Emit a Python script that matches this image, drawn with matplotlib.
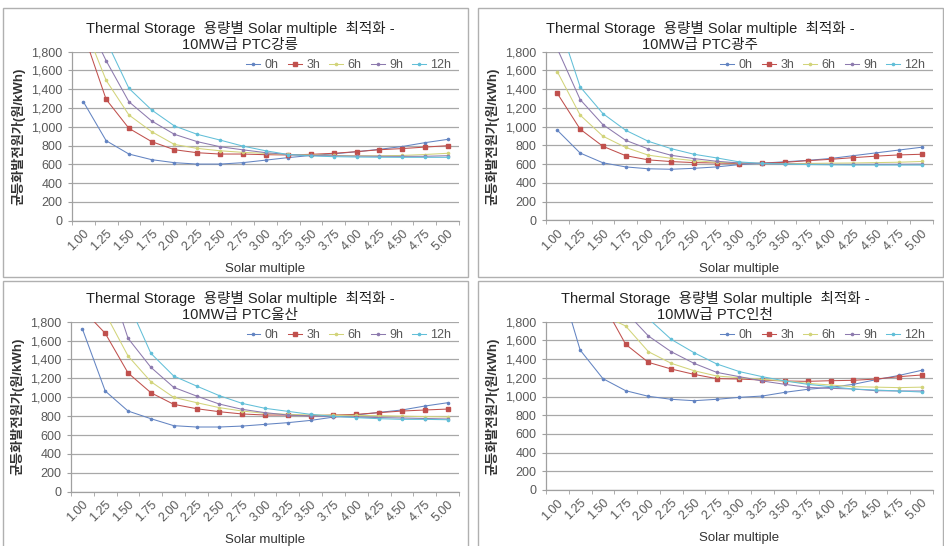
import numpy as np
import matplotlib
matplotlib.use("Agg")
import matplotlib.pyplot as plt
from matplotlib.patches import Rectangle

plt.rcParams['font.family'] = ['Liberation Sans', 'Noto Sans CJK KR', 'DejaVu Sans']

nan = np.nan
categories = ["1.00", "1.25", "1.50", "1.75", "2.00", "2.25", "2.50", "2.75", "3.00",
              "3.25", "3.50", "3.75", "4.00", "4.25", "4.50", "4.75", "5.00"]
series_names = ["0h", "3h", "6h", "9h", "12h"]
yticks = [0, 200, 400, 600, 800, 1000, 1200, 1400, 1600, 1800]

title_line1 = "Thermal Storage  용량별 Solar multiple  최적화 -"
sites = ["10MW급 PTC강릉", "10MW급 PTC광주", "10MW급 PTC울산", "10MW급 PTC인천"]
ylabel = "균등화발전원가(원/kWh)"
xlabel = "Solar multiple"

# 강릉
gangneung = {
    "0h":  [1267, 852, 710, 650, 618, 603, 603, 618, 645, 672, 695, 712, 735, 760, 790, 831, 866],
    "3h":  [2000, 1292, 984, 842, 756, 724, 710, 710, 703, 700, 707, 718, 735, 756, 768, 784, 799],
    "6h":  [2100, 1495, 1126, 948, 812, 770, 745, 728, 717, 706, 700, 695, 692, 692, 695, 705, 718],
    "9h":  [2200, 1704, 1267, 1062, 920, 842, 788, 755, 725, 705, 695, 690, 688, 686, 685, 686, 692],
    "12h": [nan, 1920, 1410, 1179, 1009, 920, 859, 795, 745, 705, 690, 682, 678, 676, 675, 675, 675],
}
# 광주
gwangju = {
    "0h":  [961, 718, 614, 570, 550, 545, 555, 570, 595, 610, 625, 640, 660, 690, 720, 750, 780],
    "3h":  [1354, 973, 790, 690, 645, 627, 616, 612, 605, 610, 619, 637, 651, 669, 685, 698, 705],
    "6h":  [1585, 1123, 898, 778, 695, 662, 637, 619, 612, 605, 605, 607, 610, 612, 616, 620, 628],
    "9h":  [1830, 1289, 1021, 854, 761, 694, 659, 630, 612, 605, 600, 598, 597, 597, 598, 598, 600],
    "12h": [2160, 1425, 1139, 961, 843, 765, 705, 666, 623, 608, 600, 595, 592, 590, 590, 590, 590],
}
# 울산
ulsan = {
    "0h":  [1723, 1066, 854, 773, 699, 685, 685, 695, 713, 731, 755, 790, 812, 840, 865, 907, 942],
    "3h":  [1930, 1677, 1257, 1048, 925, 879, 847, 823, 812, 812, 805, 812, 819, 837, 854, 865, 875],
    "6h":  [nan, 1890, 1437, 1165, 999, 943, 890, 854, 830, 819, 812, 810, 808, 805, 800, 795, 792],
    "9h":  [nan, 2357, 1624, 1317, 1105, 1013, 928, 872, 837, 812, 801, 795, 790, 785, 780, 775, 770],
    "12h": [nan, nan, 2005, 1465, 1225, 1119, 1017, 935, 883, 851, 819, 798, 784, 773, 766, 766, 762],
}
# 인천
incheon = {
    "0h":  [2316, 1497, 1191, 1062, 1002, 970, 955, 970, 991, 1005, 1045, 1077, 1098, 1130, 1180, 1225, 1280],
    "3h":  [nan, nan, 1998, 1558, 1365, 1294, 1237, 1191, 1187, 1176, 1166, 1162, 1169, 1173, 1187, 1212, 1230],
    "6h":  [nan, nan, 1869, 1754, 1479, 1355, 1276, 1219, 1201, 1184, 1166, 1141, 1123, 1105, 1100, 1095, 1100],
    "9h":  [nan, nan, nan, 1906, 1647, 1479, 1355, 1258, 1212, 1166, 1130, 1098, 1087, 1080, 1062, 1059, 1059],
    "12h": [nan, nan, nan, nan, 1833, 1611, 1469, 1348, 1266, 1212, 1166, 1130, 1105, 1080, 1069, 1059, 1048],
}
datasets = [gangneung, gwangju, ulsan, incheon]

colors = {"0h": "#6384c2", "3h": "#c0504d", "6h": "#d2d47a", "9h": "#8d7aae", "12h": "#62bfd8"}

W, H = 945, 546
fig = plt.figure(figsize=(W / 100, H / 100), dpi=100)

def fbox(x0, y0, x1, y1):
    return [x0 / W, 1 - y1 / H, (x1 - x0) / W, (y1 - y0) / H]

# panel frames
panels = [(3, 8, 468, 277), (478, 8, 943, 277), (3, 281, 468, 552), (478, 281, 943, 552)]
for (x0, y0, x1, y1) in panels:
    b = fbox(x0, y0, x1, y1)
    fig.patches.append(Rectangle((b[0], b[1]), b[2], b[3], transform=fig.transFigure,
                                 fill=False, edgecolor="#b0b0b0", linewidth=1.0))

axes_boxes = [(72, 51.7, 459, 220.7), (546, 51.7, 933, 220.3),
              (71, 321.7, 459, 491.7), (546, 321.7, 933, 490.0)]
title_x = [0.434, 0.398, 0.436, 0.437]
title_pad = [2, 2, 1, 1]

gray = "#595959"
x = np.arange(len(categories))
for k, (data, box) in enumerate(zip(datasets, axes_boxes)):
    ax = fig.add_axes(fbox(*box))
    for name in series_names:
        ax.plot(x, data[name], color=colors[name], lw=0.75, marker="s" if name == "3h" else "o",
                markersize=2.3 if name == "3h" else 1.6, label=name, clip_on=True, zorder=3)
    ax.set_xlim(-0.5, len(categories) - 0.5)
    ax.set_ylim(0, 1800)
    ax.set_yticks(yticks)
    ax.set_yticklabels([f"{v:,}" for v in yticks], fontsize=9, color=gray)
    ax.set_xticks(x)
    ax.set_xticklabels(categories, rotation=45, ha="right", rotation_mode="anchor",
                       fontsize=9, color=gray)
    ax.set_xticks(np.arange(-0.5, len(categories)), minor=True)
    ax.tick_params(axis="x", which="major", length=0, pad=5)
    ax.tick_params(axis="x", which="minor", length=3, color="#a0a0a0", direction="out")
    ax.tick_params(axis="y", length=3, color="#a0a0a0", pad=4)
    for s in ["top", "right"]:
        ax.spines[s].set_visible(False)
    for s in ["left", "bottom"]:
        ax.spines[s].set_color("#a0a0a0")
        ax.spines[s].set_linewidth(0.9)
    ax.yaxis.grid(True, color="#a8a8a8", linewidth=0.9)
    ax.set_axisbelow(True)
    ax.set_xlabel(xlabel, fontsize=9.5, color="#333333", labelpad=7)
    ax.set_ylabel(ylabel, fontsize=9.5, color="#333333", fontweight="bold", labelpad=4)
    leg = ax.legend(loc="upper right", ncol=5, frameon=False, fontsize=9, handlelength=1.1,
                    handletextpad=0.35, columnspacing=0.75, bbox_to_anchor=(1.0, 1.0),
                    borderaxespad=0.2)
    for t in leg.get_texts():
        t.set_color(gray)
    ax.set_title(title_line1 + "\n" + sites[k], fontsize=10.5, color="#222222",
                 linespacing=1.15, pad=title_pad[k], x=title_x[k])

fig.savefig("out.png", dpi=100)
